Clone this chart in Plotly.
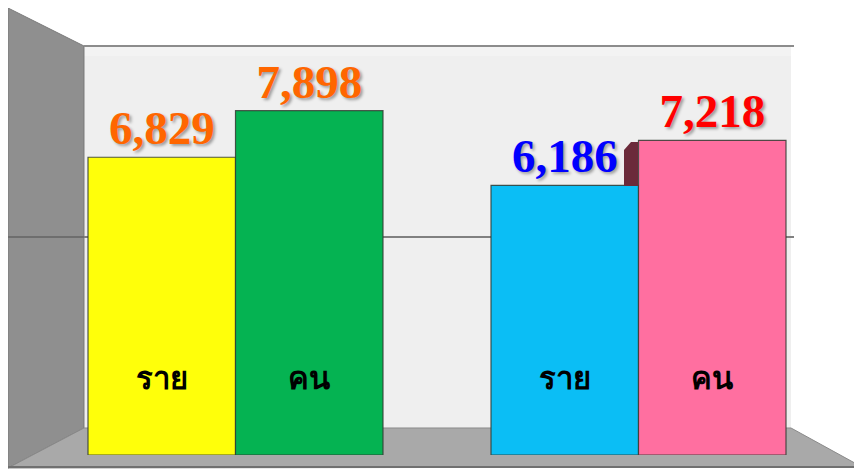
import plotly.graph_objects as go

# ---- data ----
groups = ["กลุ่มที่ 1", "กลุ่มที่ 2"]
series_names = ["ราย", "คน"]
values_rai = [6829, 6186]
values_khon = [7898, 7218]
colors_rai = ["#FFFF0A", "#0BBEF5"]
colors_khon = ["#05B352", "#FF6FA0"]
text_colors_rai = ["#FF6600", "#0000FF"]
text_colors_khon = ["#FF6600", "#FF0000"]

# ---- layout geometry ----
# the page body has an 8px margin, so the figure is sized to fit the window
PAGE_OFF = 8
WIDTH, HEIGHT = 854, 462
ML, MR, MT, MB = 26, 22, 11, 15
PW = WIDTH - ML - MR
PH = HEIGHT - MT - MB
BARGAP = 0.268


def px(x):
    return (x - PAGE_OFF - ML) / PW


def py(y):
    return (HEIGHT - MB - (y - PAGE_OFF)) / PH


def path(points):
    return "M " + " L ".join(f"{px(x):.5f},{py(y):.5f}" for x, y in points) + " Z"


fig = go.Figure()

value_font = dict(family="Liberation Serif", size=47, weight="bold",
                  shadow="2px 2px 3px rgba(0,0,0,0.35)")

for name, vals, cols, tcols in [
    (series_names[0], values_rai, colors_rai, text_colors_rai),
    (series_names[1], values_khon, colors_khon, text_colors_khon),
]:
    fig.add_trace(go.Bar(
        x=groups, y=vals, name=name,
        marker=dict(color=cols, line=dict(color="rgba(50,60,50,0.85)", width=1.2)),
        text=[f"{v:,}" for v in vals],
        textposition="outside",
        textfont=dict(color=tcols, **value_font),
        constraintext="none",
        cliponaxis=False,
        hoverinfo="skip",
    ))

# Thai labels inside bars
cat_px = PW / 2
bar_px = cat_px * (1 - BARGAP) / 2
for gi, g in enumerate(groups):
    for si, s in enumerate(series_names):
        fig.add_annotation(
            x=g, y=1800, xref="x", yref="y",
            xshift=(-1 if si == 0 else 1) * bar_px / 2,
            text=f"<b>{s}</b>", showarrow=False,
            font=dict(family="Noto Sans, DejaVu Sans, sans-serif", size=31, color="black"),
        )

shapes = []
# back wall
shapes.append(dict(type="path", path=path([(84, 46), (791, 46), (791, 428), (84, 428)]),
                   xref="paper", yref="paper", fillcolor="#EFEFEF", line=dict(width=0), layer="below"))
shapes.append(dict(type="path", path=path([(84, 46), (791, 46), (791, 56), (84, 56)]),
                   xref="paper", yref="paper", fillcolor="#F3F3F3", line=dict(width=0), layer="below"))
# left wall
shapes.append(dict(type="path", path=path([(8, 8), (84, 46), (84, 428), (8, 468)]),
                   xref="paper", yref="paper", fillcolor="#8F8F8F",
                   line=dict(color="#7A7A7A", width=1), layer="below"))
# floor
shapes.append(dict(type="path", path=path([(84, 428), (791, 428), (862, 467), (8, 468)]),
                   xref="paper", yref="paper", fillcolor="#A9A9A9",
                   line=dict(color="#8A8A8A", width=1), layer="below"))
# front floor edge
shapes.append(dict(type="line", x0=px(8), x1=px(862), y0=py(467), y1=py(467),
                   xref="paper", yref="paper", line=dict(color="#707070", width=2), layer="below"))
# top edge of back wall
shapes.append(dict(type="line", x0=px(84), x1=px(794), y0=py(46), y1=py(46),
                   xref="paper", yref="paper", line=dict(color="#8C8C8C", width=2), layer="below"))
# gridline (5000) on back wall and left wall
shapes.append(dict(type="line", x0=px(84), x1=px(794), y0=py(237), y1=py(237),
                   xref="paper", yref="paper", line=dict(color="#808080", width=2), layer="below"))
shapes.append(dict(type="line", x0=px(8), x1=px(84), y0=py(237), y1=py(237),
                   xref="paper", yref="paper", line=dict(color="#6E6E6E", width=2), layer="below"))
# dark side face of the pink bar, visible above the blue bar
shapes.append(dict(type="path", path=path([(624, 186), (624, 150), (631, 142), (638, 142), (638, 186)]),
                   xref="paper", yref="paper", fillcolor="#6B2A3A", line=dict(width=0), layer="above"))

fig.update_layout(
    width=WIDTH, height=HEIGHT,
    margin=dict(l=ML, r=MR, t=MT, b=MB, autoexpand=False),
    barmode="group", bargap=BARGAP, bargroupgap=0,
    paper_bgcolor="white", plot_bgcolor="rgba(0,0,0,0)",
    showlegend=False,
    shapes=shapes,
    xaxis=dict(visible=False, range=[-0.5, 1.5]),
    yaxis=dict(visible=False, range=[0, 10000]),
)

fig.write_html("out.html")
